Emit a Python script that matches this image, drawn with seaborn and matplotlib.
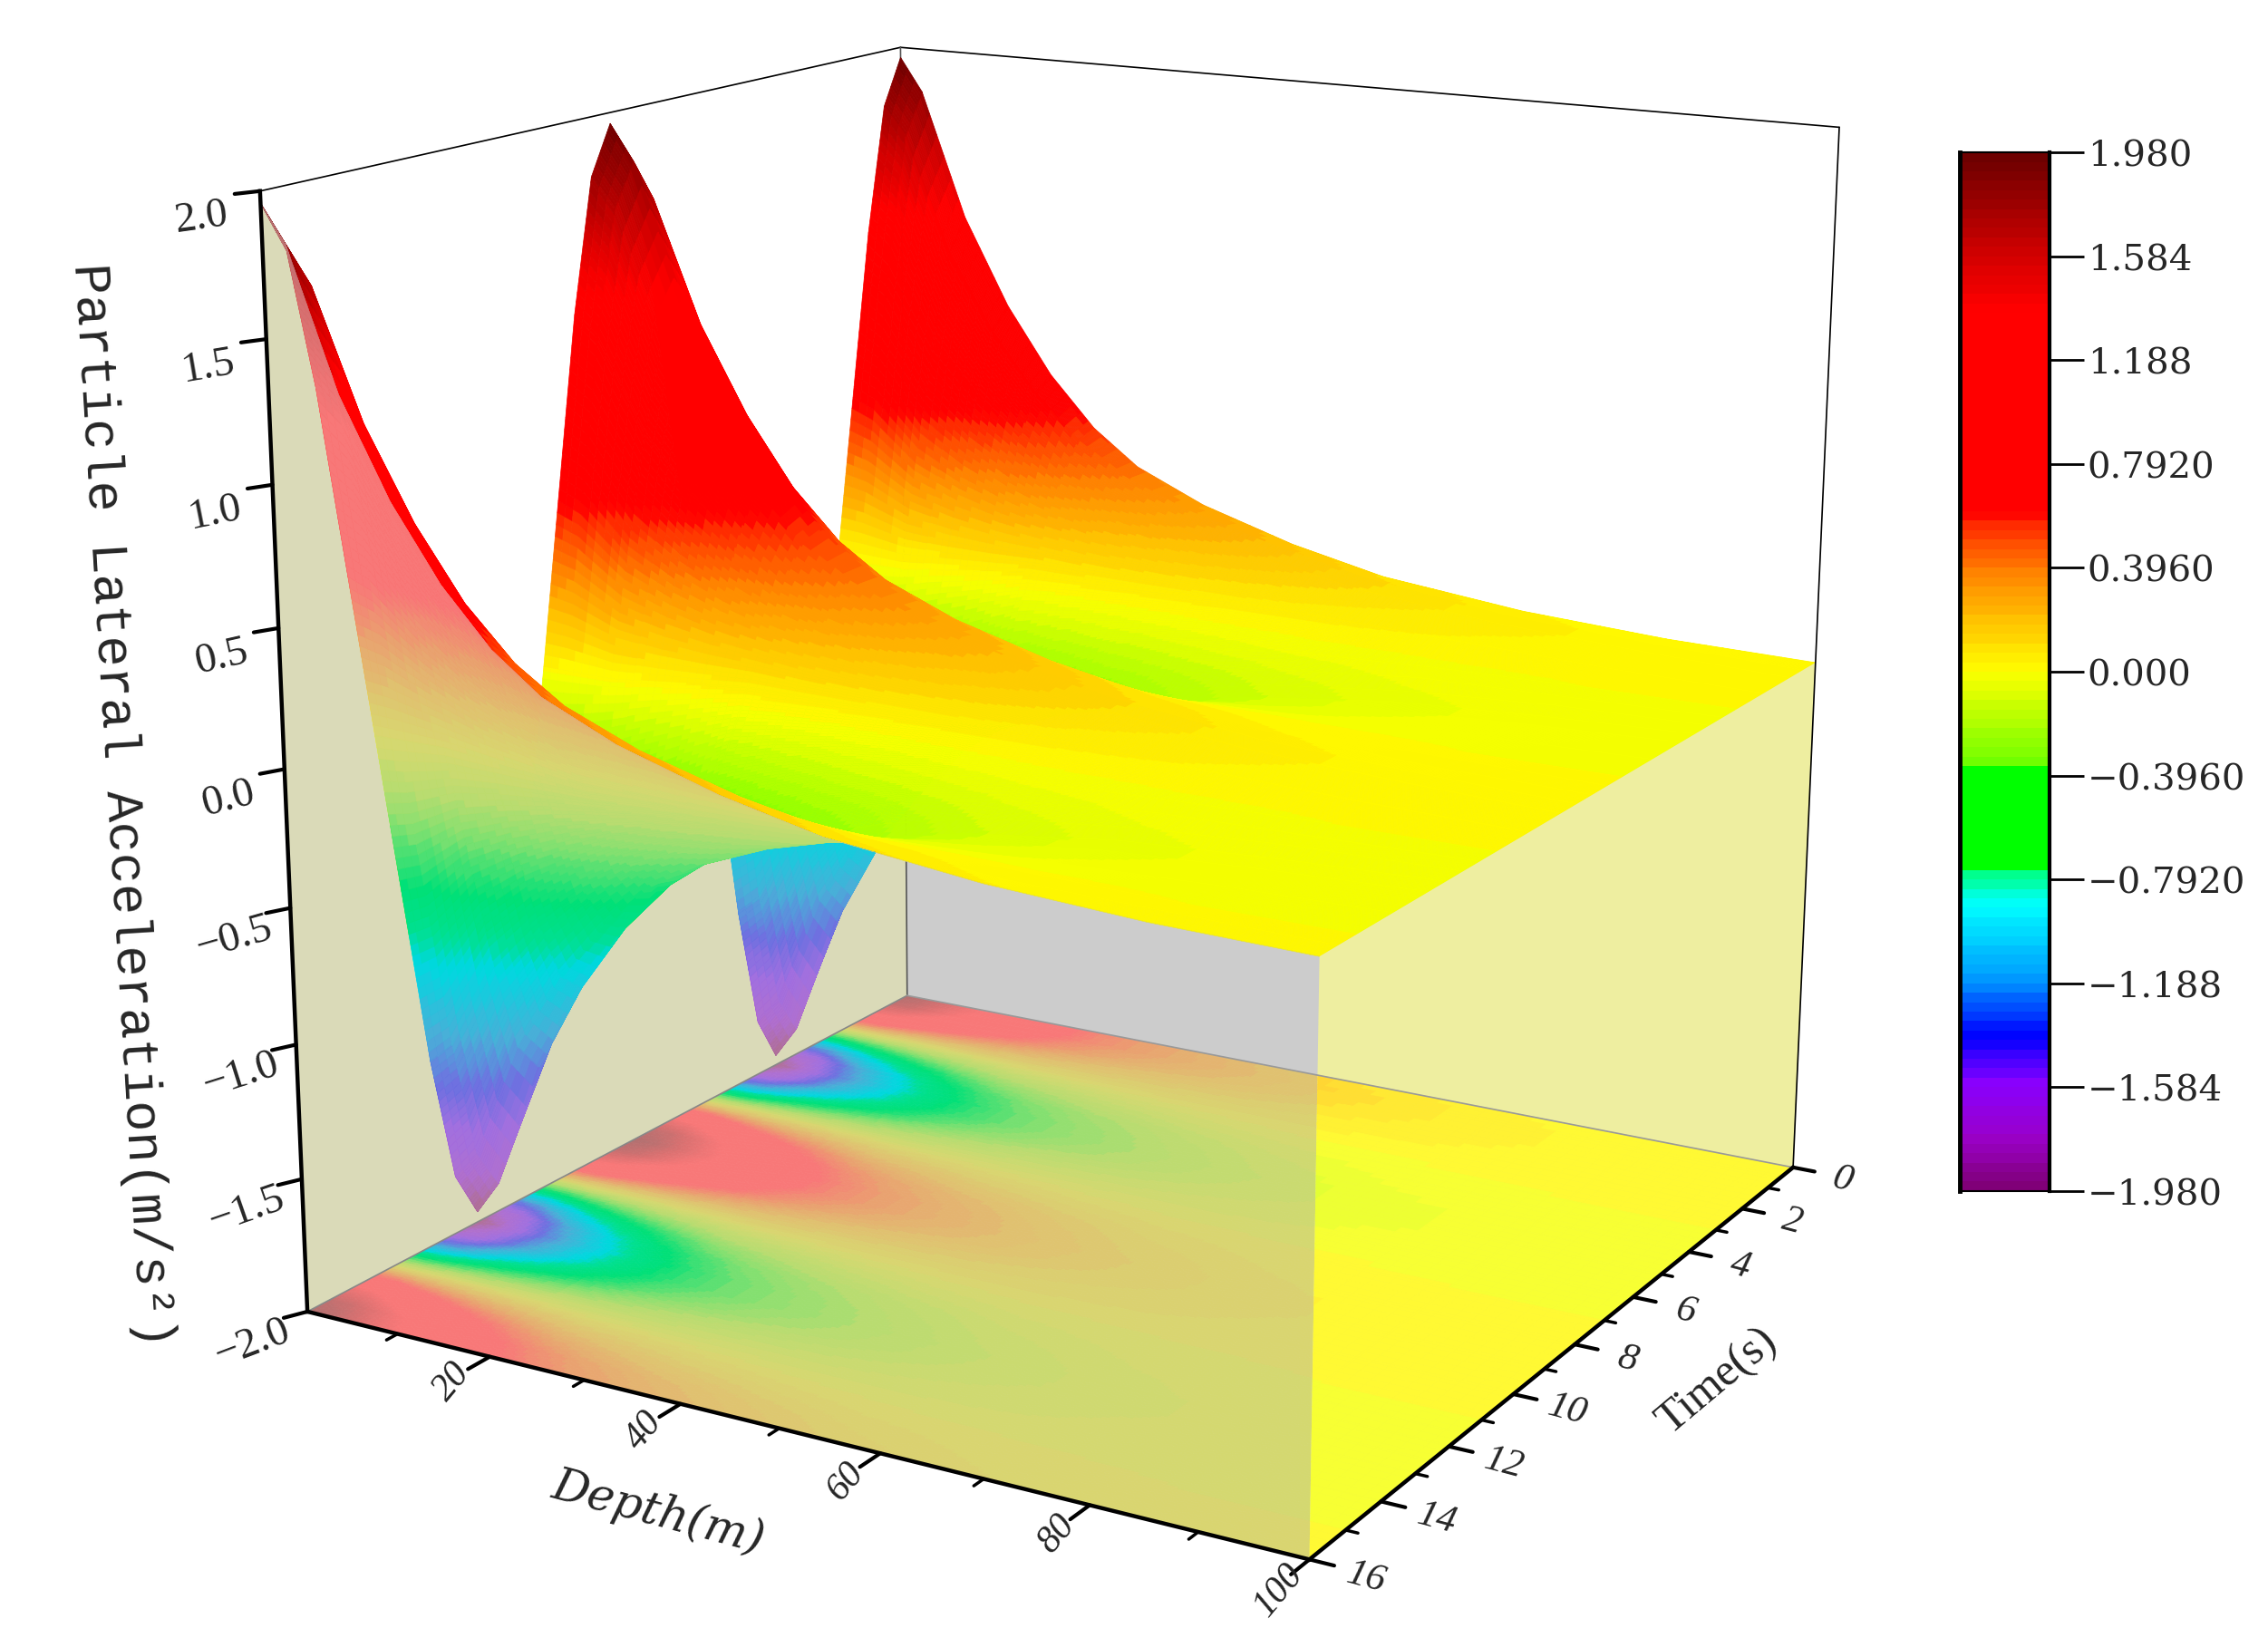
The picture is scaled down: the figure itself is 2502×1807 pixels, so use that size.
import numpy as np
import seaborn as sns
import matplotlib
matplotlib.use("Agg")
import matplotlib.pyplot as plt
from matplotlib.colors import LinearSegmentedColormap, ListedColormap, Normalize
from matplotlib.path import Path
from mpl_toolkits.mplot3d import proj3d
from mpl_toolkits.mplot3d.art3d import Poly3DCollection

depth = [0, 2.5, 7.5, 12.5, 17.5, 22.5, 27.5, 35, 45, 55, 70, 85, 100]
time_s = [0, .5, 1, 2, 3, 3.5, 4, 4.5, 5, 6, 7, 7.5, 8, 8.5, 9, 10, 11, 11.5, 12, 12.5, 13, 14, 15, 15.5, 16]
accel = [
 [1.96,1.83,1.34,1.00,.74,.545,.41,.29,.18,.10,.04,.01,0],
 [1.78,1.67,1.22,.92,.69,.52,.41,.30,.20,.12,.05,.02,0],
 [1.29,1.21,.88,.68,.53,.41,.33,.25,.18,.11,.05,.02,0],
 [0,0,0,.02,.04,.06,.06,.06,.06,.05,.03,.01,0],
 [-1.29,-1.21,-.88,-.64,-.46,-.31,-.23,-.14,-.07,-.03,-.01,0,0],
 [-1.78,-1.67,-1.22,-.90,-.65,-.47,-.35,-.24,-.14,-.07,-.02,-.01,0],
 [-1.96,-1.83,-1.34,-1.00,-.74,-.545,-.41,-.29,-.18,-.10,-.04,-.01,0],
 [-1.78,-1.67,-1.22,-.92,-.69,-.52,-.41,-.30,-.20,-.12,-.05,-.02,0],
 [-1.29,-1.21,-.88,-.68,-.53,-.41,-.33,-.25,-.18,-.11,-.05,-.02,0],
 [0,0,0,-.02,-.04,-.06,-.06,-.06,-.06,-.05,-.03,-.01,0],
 [1.29,1.21,.88,.64,.46,.31,.23,.14,.07,.03,.01,0,0],
 [1.78,1.67,1.22,.90,.65,.47,.35,.24,.14,.07,.02,.01,0],
 [1.96,1.83,1.34,1.00,.74,.545,.41,.29,.18,.10,.04,.01,0],
 [1.78,1.67,1.22,.92,.69,.52,.41,.30,.20,.12,.05,.02,0],
 [1.29,1.21,.88,.68,.53,.41,.33,.25,.18,.11,.05,.02,0],
 [0,0,0,.02,.04,.06,.06,.06,.06,.05,.03,.01,0],
 [-1.29,-1.21,-.88,-.64,-.46,-.31,-.23,-.14,-.07,-.03,-.01,0,0],
 [-1.78,-1.67,-1.22,-.90,-.65,-.47,-.35,-.24,-.14,-.07,-.02,-.01,0],
 [-1.96,-1.83,-1.34,-1.00,-.74,-.545,-.41,-.29,-.18,-.10,-.04,-.01,0],
 [-1.78,-1.67,-1.22,-.92,-.69,-.52,-.41,-.30,-.20,-.12,-.05,-.02,0],
 [-1.29,-1.21,-.88,-.68,-.53,-.41,-.33,-.25,-.18,-.11,-.05,-.02,0],
 [0,0,0,-.02,-.04,-.06,-.06,-.06,-.06,-.05,-.03,-.01,0],
 [1.29,1.21,.88,.64,.46,.31,.23,.14,.07,.03,.01,0,0],
 [1.78,1.67,1.22,.90,.65,.47,.35,.24,.14,.07,.02,.01,0],
 [1.96,1.83,1.34,1.00,.74,.545,.41,.29,.18,.10,.04,.01,0],
]
cbar_ticks = [1.98, 1.584, 1.188, 0.792, 0.396, 0.0, -0.396, -0.792, -1.188, -1.584, -1.98]
cbar_labels = ["1.980", "1.584", "1.188", "0.7920", "0.3960", "0.000", "\u22120.3960", "\u22120.7920", "\u22121.188", "\u22121.584", "\u22121.980"]
z_ticks = [2.0, 1.5, 1.0, 0.5, 0.0, -0.5, -1.0, -1.5, -2.0]
z_labels = ["2.0", "1.5", "1.0", "0.5", "0.0", "\u22120.5", "\u22121.0", "\u22121.5", "\u22122.0"]
depth_ticks = [20, 40, 60, 80, 100]
time_ticks = [0, 2, 4, 6, 8, 10, 12, 14, 16]

VMIN, VMAX = -1.98, 1.98
main_stops = [(-1.98,"#800078"),(-1.80,"#9A00C8"),(-1.584,"#8800FF"),(-1.41,"#0000FF"),(-1.188,"#0098FF"),
              (-0.90,"#00FFFF"),(-0.77,"#00FF80"),(-0.76,"#00FF00"),(-0.36,"#00FF00"),(-0.35,"#70FF00"),
              (0.0,"#FFFF00"),(0.2,"#FFC000"),(0.39,"#FF8000"),(0.59,"#FF2000"),(0.60,"#FF0000"),
              (1.40,"#FF0000"),(1.584,"#D80000"),(1.98,"#6E0000")]
tint_stops = [(-1.98,"#B07090"),(-1.80,"#B070D0"),(-1.584,"#A070E0"),(-1.41,"#7070E0"),(-1.188,"#48B0D8"),
              (-0.90,"#00D8E0"),(-0.77,"#00E090"),(-0.60,"#00E078"),(-0.36,"#80E070"),(-0.2,"#B8DC70"),
              (0.0,"#D8D870"),(0.2,"#E0C070"),(0.39,"#EAA070"),(0.59,"#F87878"),
              (1.188,"#F87878"),(1.584,"#D87070"),(1.98,"#B07070")]

def banded(stops, n=110):
    pos = [(v - VMIN) / (VMAX - VMIN) for v, _ in stops]
    smooth = LinearSegmentedColormap.from_list("m", list(zip(pos, [c for _, c in stops])))
    return ListedColormap(sns.color_palette(smooth(np.linspace(0, 1, n))))

sns.set_theme(style="white")
plt.rcParams["font.family"] = ["Liberation Serif", "DejaVu Serif"]
W, H = 2502, 1808
k = W / 1568
fig = plt.figure(figsize=(W / 100, H / 100), dpi=100)
ax = fig.add_axes([0.05043, -0.02567, 0.82973, 1.14822], projection="3d", computed_zorder=False)
ax.set_axis_off()
ax.set_autoscale_on(False)
ax.set_xlim3d(0, 100, view_margin=0)
ax.set_ylim3d(16, 0, view_margin=0)
ax.set_zlim3d(-2, 2, view_margin=0)
ax.view_init(15.6192, -60.0005, -0.168)
ax.set_proj_type("persp", focal_length=0.4855)
ax.set_box_aspect((0.9986, 1.0014, 1))

D = np.array(depth, float); T = np.array(time_s, float); Z = np.array(accel, float)
Zs0 = Z[0, :]; Zs16 = Z[-1, :]; Zd0 = Z[:, 0]; Zd100 = Z[:, -1]

def fine_axis(v, n):
    return np.unique(np.concatenate([np.linspace(v[0], v[-1], n), v]))
def refined(nd, nt):
    Df = fine_axis(D, nd); Tf = fine_axis(T, nt)
    Zc = np.array([np.interp(Df, D, row) for row in Z])
    Zf = np.array([np.interp(Tf, T, Zc[:, j]) for j in range(Zc.shape[1])]).T
    DD, TT = np.meshgrid(Df, Tf)
    return DD, TT, Zf
norm = Normalize(VMIN, VMAX)
main_cmap = banded(main_stops); tint_cmap = banded(tint_stops)

def surf(nd, nt, cmap, zorder, flat=False, mix=0.0, lw=0.5):
    DD, TT, Zf = refined(nd, nt)
    Zface = 0.25 * (Zf[:-1, :-1] + Zf[1:, :-1] + Zf[:-1, 1:] + Zf[1:, 1:])
    fc = np.array(cmap(norm(Zface)))
    if mix:
        fc[..., :3] = fc[..., :3] * (1 - mix) + mix
    zv = np.full_like(Zf, -2.0) if flat else Zf
    return ax.plot_surface(DD, TT, zv, facecolors=fc, rstride=1, cstride=1, shade=False,
                           linewidth=lw, antialiased=True, zorder=zorder)

def wall(pts, color, zorder):
    c = Poly3DCollection([pts], facecolors=color, edgecolors="none", zorder=zorder)
    ax.add_collection3d(c)
    return c

surf(170, 230, tint_cmap, 1, flat=True)
wall([(d, 0, z) for d, z in zip(D, Zs0)] + [(100, 0, -2), (0, 0, -2)], "#CCCCCC", 2)
wall([(0, t, z) for t, z in zip(T, Zd0)] + [(0, 16, -2), (0, 0, -2)], "#DADAB8", 2)
ax.plot([0, 0], [0, 0], [-2, 2], color="#555555", lw=1.2, zorder=3)
ax.plot([0, 0], [16, 0], [-2, -2], color="#888888", lw=1.2, zorder=3)
ax.plot([0, 0], [16, 0], [2, 2], color="black", lw=1.2, zorder=0.5)
ax.plot([0, 100], [0, 0], [2, 2], color="black", lw=1.2, zorder=0.5)
surf(120, 480, main_cmap, 4)
tinted = surf(120, 480, tint_cmap, 5)
wall([(100, t, z) for t, z in zip(T, Zd100)] + [(100, 16, -2), (100, 0, -2)], "#EEEEA0", 6)
bright = surf(60, 80, main_cmap, 7, flat=True, mix=0.2)

M = ax.get_proj()
def to2d(dv, tv, zv):
    X2, Y2, _ = proj3d.proj_transform(np.array(dv, float), np.array(tv, float), np.array(zv, float), M)
    return X2, Y2
def proj_path(dv, tv, zv):
    X2, Y2 = to2d(dv, tv, zv)
    v = np.column_stack([X2, Y2])
    return Path(np.vstack([v, v[:1]]), closed=True)
tinted.set_clip_path(proj_path(list(D) + [100, 0], [16] * len(D) + [16, 16], list(Zs16) + [-2, -2]), ax.transData)
bright.set_clip_path(proj_path([100] * len(T) + [100, 100], list(T) + [16, 0], list(Zd100) + [-2, -2]), ax.transData)

def label3d(d, t, z, s, **kw):
    X2, Y2 = to2d([d], [t], [z])
    ax.text2D(float(X2[0]), float(Y2[0]), s, transform=ax.transData, ha="center", va="center", zorder=11, **kw)

ax.plot([0, 100], [0, 0], [-2, -2], color="#999999", lw=1.2, zorder=8)
ax.plot([100, 100], [0, 0], [-2, 2], color="black", lw=1.2, zorder=8)
AX = dict(color="black", lw=3.2, zorder=10, solid_capstyle="projecting")
ax.plot([0, 0], [16, 16], [-2, 2], **AX)
ax.plot([0, 100], [16, 16], [-2, -2], **AX)
ax.plot([100, 100], [16, 0], [-2, -2], **AX)

TK = dict(color="black", zorder=10)
for z, lab in zip(z_ticks, z_labels):
    ax.plot([0, -0.9], [16, 16.35], [z, z], lw=3, **TK)
    label3d(-2.4, 16.75, z - 0.07, lab, fontsize=34, rotation=8 + (2 - z) * 3.2)
for d in range(10, 101, 10):
    major = d in depth_ticks
    ax.plot([d, d], [16, 16.5 if major else 16.25], [-2, -2], lw=3 if major else 2.5, **TK)
for d in depth_ticks:
    label3d(d + 0.4, 16.95, -2, str(d), fontsize=30, rotation=50, style="italic")
for t in range(0, 17):
    major = t in time_ticks
    ax.plot([100, 102.2 if major else 101.1], [t, t], [-2, -2], lw=3 if major else 2.5, **TK)
for t in time_ticks:
    label3d(105.3, t + 0.1, -2, str(t), fontsize=31, rotation=-15, style="italic")

fig.text(455 * k / W, 1 - 1046 * k / H, "Depth(m)", fontsize=36, style="italic", rotation=-15, ha="center", va="center",
         family="DejaVu Serif")
fig.text(1187 * k / W, 1 - 955 * k / H, "Time(s)", fontsize=36, rotation=40, ha="center", va="center")
fig.text(84 * k / W, 1 - 557 * k / H, "Particle Lateral Acceleration(m/s\u00b2)", fontsize=41, rotation=-86.5,
         ha="center", va="center", family=["Liberation Mono", "DejaVu Sans Mono"])

cax = fig.add_axes([1355 * k / W, 1 - 824 * k / H, 62 * k / W, 718 * k / H])
vals = np.linspace(VMAX, VMIN, 220)[:, None]
sns.heatmap(vals, ax=cax, cmap=main_cmap, vmin=VMIN, vmax=VMAX, cbar=False, xticklabels=False, yticklabels=False)
cax.set_yticks([(VMAX - v) / (VMAX - VMIN) * 220 for v in cbar_ticks])
cax.set_yticklabels(cbar_labels, family="DejaVu Serif", fontsize=29, rotation=0)
cax.yaxis.tick_right()
cax.tick_params(axis="y", length=27, width=2, color="black", pad=3, right=True, left=False)
for n, sp in cax.spines.items():
    sp.set_visible(True); sp.set_color("black"); sp.set_linewidth(1.5)
cax.spines["left"].set_linewidth(3.5); cax.spines["right"].set_linewidth(3)

fig.savefig("out.png", dpi=100)
